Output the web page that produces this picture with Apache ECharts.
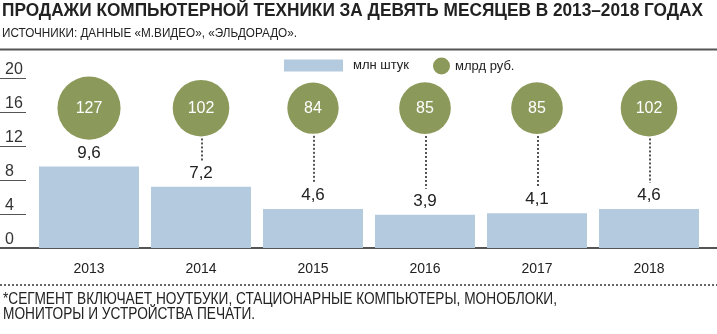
<!DOCTYPE html>
<html>
<head>
<meta charset="utf-8">
<script src="https://cdn.jsdelivr.net/npm/echarts@6/dist/echarts.min.js"></script>
<style>
html,body{margin:0;padding:0;background:#fff;}
#chart{width:717px;height:334px;}
</style>
</head>
<body>
<div id="chart"></div>
<script>
// ---- data ----
const years = ['2013', '2014', '2015', '2016', '2017', '2018'];
const units = [9.6, 7.2, 4.6, 3.9, 4.1, 4.6];          // млн штук
const rubles = [127, 102, 84, 85, 85, 102];             // млрд руб.
const yTicks = [0, 4, 8, 12, 16, 20];
const titleText = 'ПРОДАЖИ КОМПЬЮТЕРНОЙ ТЕХНИКИ ЗА ДЕВЯТЬ МЕСЯЦЕВ В 2013–2018 ГОДАХ';
const sourceText = 'ИСТОЧНИКИ: ДАННЫЕ «М.ВИДЕО», «ЭЛЬДОРАДО».';
const noteLines = ['*СЕГМЕНТ ВКЛЮЧАЕТ НОУТБУКИ, СТАЦИОНАРНЫЕ КОМПЬЮТЕРЫ, МОНОБЛОКИ,',
                   'МОНИТОРЫ И УСТРОЙСТВА ПЕЧАТИ.'];
const unitsName = 'млн штук';
const rublesName = 'млрд руб.';

// ---- layout ----
const SANS = "'Liberation Sans',Arial,sans-serif";
const BAR_COLOR = '#b3cadf';
const BUBBLE_COLOR = '#8b9a5a';
const bubbleRow = 16.45; // vertical level of bubble row in axis units (layout)
const GRID_TOP = 78, GRID_BOTTOM = 86;

const measureCtx = document.createElement('canvas').getContext('2d');
function condensed(text, x, y, size, weight, targetWidth, lineHeight) {
  const lines = text.split('\n');
  measureCtx.font = weight + ' ' + size + 'px ' + SANS;
  const w = Math.max.apply(null, lines.map(l => measureCtx.measureText(l).width));
  return {type: 'text', x: x, y: y, scaleX: targetWidth / w, scaleY: 1,
          style: {text: text, fontFamily: SANS, fontSize: size, fontWeight: weight,
                  fill: '#222', verticalAlign: 'top', align: 'left',
                  lineHeight: lineHeight || size}};
}

const chart = echarts.init(document.getElementById('chart'), null, {renderer: 'canvas'});

const option = {
  animation: false,
  backgroundColor: '#fff',
  legend: [
    {data: [unitsName], left: 279, top: 54, itemWidth: 59, itemHeight: 12, icon: 'rect',
     textStyle: {fontFamily: SANS, fontSize: 13, color: '#222', padding: [0, 0, 0, 5]}},
    {data: [rublesName], left: 428, top: 52.5, itemWidth: 17, itemHeight: 17, icon: 'circle',
     textStyle: {fontFamily: SANS, fontSize: 13, color: '#222'}}
  ],
  grid: [
    {left: 33, right: 12, top: GRID_TOP, bottom: GRID_BOTTOM},
    {left: 0, width: 26, top: GRID_TOP, bottom: GRID_BOTTOM},
    {left: 0, right: 0, top: GRID_TOP, bottom: GRID_BOTTOM}
  ],
  xAxis: [
    {type: 'category', data: years, gridIndex: 0,
     axisLine: {show: false}, axisTick: {show: false},
     axisLabel: {fontFamily: SANS, fontSize: 14, color: '#222', margin: 14}},
    {type: 'value', gridIndex: 1, show: false},
    {type: 'value', gridIndex: 2, min: 0, max: 1,
     axisLine: {show: true, onZero: false, lineStyle: {color: '#555', width: 2}},
     axisTick: {show: false}, axisLabel: {show: false}, splitLine: {show: false}}
  ],
  yAxis: [
    {type: 'value', gridIndex: 0, min: 0, max: 20, interval: 4, show: false},
    {type: 'value', gridIndex: 1, min: 0, max: 20, interval: 4,
     axisLine: {show: false}, axisTick: {show: false},
     splitLine: {show: true, lineStyle: {color: '#555', width: 1}},
     axisLabel: {inside: true, margin: 5, verticalAlign: 'bottom', fontFamily: SANS,
                 fontSize: 16, color: '#333', lineHeight: 16,
                 formatter: v => yTicks.includes(v) ? String(v) : ''}},
    {type: 'value', gridIndex: 2, show: false}
  ],
  graphic: [
    condensed(titleText, 2, 1, 19, 'bold', 701),
    condensed(sourceText, 2, 28, 12, 'normal', 295),
    condensed(noteLines.join('\n'), 3, 292, 16, 'normal', 554, 15),
    {type: 'line', z: 10, shape: {x1: 0, y1: 49.5, x2: 717, y2: 49.5},
     style: {stroke: '#555', lineWidth: 2}},
    {type: 'group', z: 10, children: Array.from({length: 180}, (_, k) => ({
      type: 'rect', shape: {x: k * 4, y: 284, width: 2, height: 2},
      style: {fill: '#666'}}))}
  ],
  series: [
    {name: unitsName, type: 'bar', xAxisIndex: 0, yAxisIndex: 0, data: units,
     barWidth: 100, itemStyle: {color: BAR_COLOR},
     label: {show: true, position: 'top', distance: 5, fontFamily: SANS, fontSize: 17, color: '#222',
             formatter: p => String(p.value).replace('.', ',')}},
    {name: 'dots', type: 'custom', xAxisIndex: 0, yAxisIndex: 0, silent: true, z: 1,
     data: units.map((u, i) => [i, u, rubles[i]]),
     renderItem: function (params, api) {
       const i = api.value(0);
       const barTop = api.coord([i, api.value(1)]);
       const bub = api.coord([i, bubbleRow]);
       const r = 5.6 * Math.sqrt(api.value(2)) / 2;
       const y1 = bub[1] + r + 2;
       const y2 = barTop[1] - 26;
       if (y2 - y1 < 6) return null;
       return {type: 'line', shape: {x1: bub[0] + 1, y1: y1, x2: bub[0] + 1, y2: y2},
               style: {stroke: '#555', lineWidth: 2, lineDash: [2, 2]}};
     }},
    {name: rublesName, type: 'scatter', xAxisIndex: 0, yAxisIndex: 0,
     data: rubles.map((v, i) => [i, bubbleRow, v]),
     symbol: 'circle',
     symbolSize: val => 5.6 * Math.sqrt(val[2]),
     itemStyle: {color: BUBBLE_COLOR, opacity: 1},
     label: {show: true, position: 'inside', fontFamily: SANS, fontSize: 16, color: '#fff',
             formatter: p => String(p.value[2])},
     z: 3}
  ]
};
chart.setOption(option);
</script>
</body>
</html>
